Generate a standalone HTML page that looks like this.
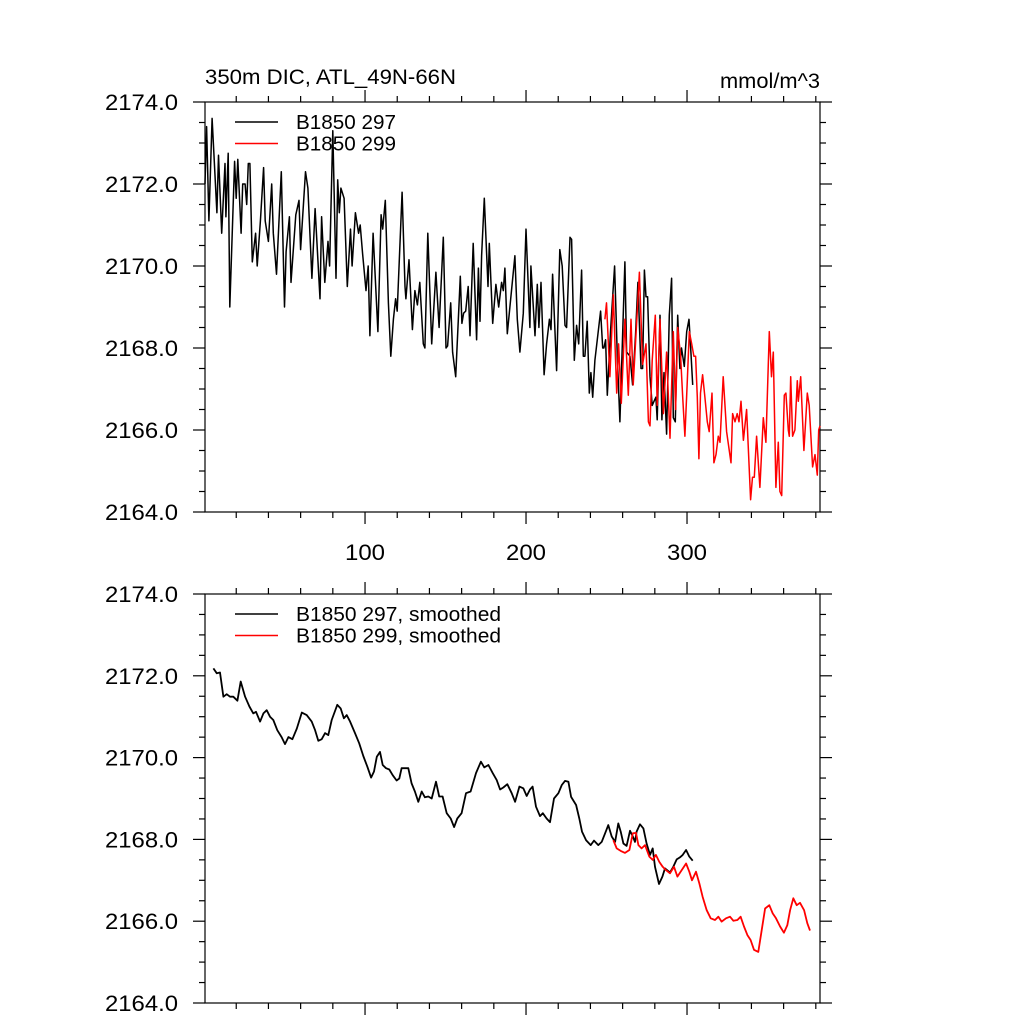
<!DOCTYPE html>
<html><head><meta charset="utf-8"><style>
html,body{margin:0;padding:0;background:#fff;}
svg{display:block;font-family:"Liberation Sans",sans-serif;}
</style></head><body>
<svg id="chart" width="1024" height="1024" viewBox="0 0 1024 1024" xmlns="http://www.w3.org/2000/svg">
<text x="205" y="84" font-size="21" textLength="251" lengthAdjust="spacingAndGlyphs">350m DIC, ATL_49N-66N</text>
<text x="820" y="88" font-size="21" text-anchor="end" textLength="100" lengthAdjust="spacingAndGlyphs">mmol/m^3</text>
<g id="p1"></g>
<g id="p2"></g>
</svg>
<script>
const xTickLabels = ["100","200","300"];
const xTicks = [100,200,300];
const yTicks = [2164,2166,2168,2170,2172,2174];
const yTickLabels = ["2164.0","2166.0","2168.0","2170.0","2172.0","2174.0"];

const rawBlackYears = [0.6,1.6,3,5,8,9,11,13,13.6,15,16,19,20,21,23,24,25.5,26.5,27.5,28.5,30,32,33,35,37,38,40,42,43,45,48,50,51,53,54,57,59,60,63,64.5,67,69,72,73,75,77,78,80,82,83,84,85,87,89,91,92,94,96,97,98.5,100.6,102,103,105,106.6,108,110,111,112.6,114.5,116,117.6,119,120,123,124.8,125.4,127.3,129.4,131,132.5,134,136.2,137.2,139,141.4,144,146,148.6,150.3,151.3,153.2,154.4,156.3,159.2,160.2,161.2,162.5,164.1,165.2,167.2,169.3,170.4,171.4,172.4,174.1,176.4,177.2,179.3,181.3,183,184.8,185.9,186.9,188.4,190,193.1,194.6,196.2,198.3,200,202.4,203,205.6,207,208,209.3,211.2,212.8,214.5,215.5,216.5,219,221,222.5,224.2,225.2,227.3,228.3,230,231.4,232.7,234.5,235.6,236.6,238,239.3,240.3,241.4,242.8,246.3,247.6,248.4,249.4,250.5,252.5,255,256.7,258.3,261.4,262.5,264.6,266.2,268,269.5,271.4,272.4,273.5,274.5,275.5,277,278.4,279.5,280.7,281.5,283.2,284.4,285.7,287.3,289,290.4,291.5,292.7,294.2,295.6,296.6,298.3,299.8,301.2,302.4,303.5];
const rawBlackValues = [2172.0,2173.4,2171.1,2173.6,2171.3,2172.7,2170.8,2172.5,2171.2,2172.75,2169.0,2172.55,2171.65,2172.6,2170.8,2172.0,2172.0,2171.5,2172.5,2172.5,2170.1,2170.8,2170.0,2171.1,2172.4,2171.1,2170.6,2172.0,2170.8,2169.8,2172.3,2169.0,2170.35,2171.2,2169.6,2171.25,2171.6,2170.4,2172.3,2171.9,2169.7,2171.4,2169.2,2171.2,2169.6,2170.6,2170.0,2173.3,2169.7,2172.1,2171.3,2171.9,2171.65,2169.5,2170.9,2170.0,2171.3,2170.8,2171.0,2170.3,2169.4,2170.0,2168.3,2170.8,2169.5,2168.4,2171.25,2170.9,2171.6,2169.1,2167.8,2168.7,2169.2,2168.9,2171.8,2169.5,2169.2,2170.15,2168.45,2169.4,2169.05,2169.6,2168.1,2168.0,2170.8,2168.1,2169.85,2168.5,2170.7,2168.0,2168.05,2169.1,2167.9,2167.3,2169.75,2168.6,2168.85,2168.9,2169.5,2168.3,2170.55,2168.2,2169.95,2168.65,2170.25,2171.65,2169.5,2170.55,2168.6,2169.55,2169.0,2169.6,2169.4,2169.95,2168.35,2169.0,2170.25,2168.7,2167.9,2168.85,2170.9,2168.5,2170.0,2168.3,2169.55,2168.5,2169.6,2167.35,2168.1,2168.7,2168.45,2169.8,2167.45,2170.4,2170.0,2168.55,2168.5,2170.7,2170.65,2167.7,2168.55,2168.1,2169.9,2167.8,2167.8,2168.65,2166.9,2167.4,2166.8,2167.7,2168.9,2168.0,2168.0,2168.2,2166.85,2168.4,2170.0,2167.8,2166.2,2170.1,2167.9,2167.8,2167.1,2168.3,2169.6,2167.5,2167.5,2169.9,2169.25,2169.25,2167.3,2166.6,2166.7,2166.8,2166.25,2168.8,2166.25,2167.4,2165.9,2168.8,2169.7,2166.3,2166.2,2168.8,2167.5,2168.0,2167.55,2168.4,2168.7,2167.9,2167.1];

const rawRedYears = [249,250,252.1,254.2,256.3,257.5,259.2,261.4,263.5,265.2,266.6,268.1,270.4,272.4,274.5,276,277,278.4,280.3,281.5,283.2,285.3,287.3,289.4,291.5,292.9,294.2,296,297.3,298.7,300.2,301.4,302.9,304.3,305.3,306.4,307.4,308.4,309.7,311.1,312.6,313.8,315.5,316.7,318,319.4,320.5,322.5,324.6,327.3,328.3,329.8,331.2,332.3,333.5,335,337,339.5,340.7,341.8,343.2,345.3,347.4,349,351.1,352.5,353.6,355.2,356.7,357.7,358.8,360.4,361.4,362.9,363.5,364.4,365.6,367,368.5,369.1,370.6,372.6,374.7,375.9,378,379.5,380.9,381.8,382.6];
const rawRedValues = [2168.7,2169.1,2167.3,2169.3,2166.9,2168.1,2166.65,2168.7,2166.85,2168.7,2167.1,2168.2,2169.85,2167.6,2168.1,2166.2,2166.1,2167.7,2168.8,2166.6,2168.7,2166.4,2167.9,2165.8,2168.4,2166.5,2168.5,2167.8,2166.8,2165.85,2167.2,2168.4,2168.1,2167.8,2167.8,2166.8,2165.3,2166.9,2167.35,2166.8,2166.2,2165.96,2166.9,2165.2,2165.4,2165.85,2165.7,2167.3,2165.96,2165.2,2166.4,2166.2,2166.4,2166.2,2166.7,2165.75,2166.5,2164.3,2164.85,2164.85,2165.85,2164.6,2166.3,2165.7,2168.4,2167.3,2167.9,2164.6,2165.7,2164.5,2164.4,2166.85,2166.9,2166.0,2165.85,2167.3,2165.85,2166.0,2167.2,2166.7,2167.3,2165.5,2166.9,2166.6,2165.1,2165.4,2164.9,2166.0,2166.1];

const smBlackYears = [5.8,7.9,9.9,12,14.1,16.1,18.2,20.7,22.8,25.5,28.2,30.6,32.3,34.8,36.9,38.9,41,43,45.5,48.2,50.3,52.4,54.9,57.6,60.7,63.8,66.9,69,71,73.1,75.2,77.2,79.3,82.8,84.9,86.9,88.6,90.7,93.8,96.4,98.9,101.4,103.8,105.6,107.3,109.3,111,113,115.1,117.2,119.6,121.3,122.7,124.8,126.9,128.9,131,133.1,135.2,137.2,139.3,141.4,144.1,146.1,148.2,150.7,153.2,155.3,157.3,160,162.7,165.6,168.9,172,174.1,176.6,179.3,181.8,183.9,185.9,188.4,191.1,193.2,195.9,198.3,200.4,202.5,204.1,206.2,208.7,210.4,212.8,214.9,217.4,220.1,222.2,224.2,226.3,228,231.1,233.1,234.8,237.3,240.2,242.2,244.9,247,249.1,251.1,253.2,255.3,257.3,258.8,260.5,262.5,264.6,266.3,267.7,268.7,270.8,272.9,274.9,277,278.7,280.1,282.6,284.7,286.3,289.4,291.5,293.6,295.6,297.3,299.4,301.4,303.5];
const smBlackValues = [2172.18,2172.06,2172.08,2171.49,2171.55,2171.49,2171.49,2171.39,2171.86,2171.49,2171.25,2171.08,2171.12,2170.88,2171.08,2171.16,2171.0,2170.92,2170.67,2170.5,2170.33,2170.5,2170.45,2170.71,2171.1,2171.04,2170.88,2170.67,2170.41,2170.45,2170.6,2170.55,2170.92,2171.29,2171.2,2170.96,2171.04,2170.88,2170.6,2170.35,2170.04,2169.78,2169.51,2169.66,2170.02,2170.14,2169.82,2169.74,2169.71,2169.57,2169.44,2169.49,2169.74,2169.74,2169.74,2169.37,2169.17,2168.92,2169.17,2169.03,2169.05,2169.0,2169.41,2169.05,2169.05,2168.64,2168.51,2168.3,2168.51,2168.64,2169.13,2169.17,2169.62,2169.9,2169.76,2169.82,2169.62,2169.45,2169.22,2169.27,2169.35,2169.13,2168.92,2169.29,2169.25,2169.06,2169.22,2169.29,2168.8,2168.57,2168.64,2168.51,2168.42,2169.0,2169.13,2169.33,2169.43,2169.41,2169.04,2168.84,2168.51,2168.19,2167.98,2167.86,2167.97,2167.86,2167.94,2168.15,2168.35,2168.07,2167.94,2168.39,2168.19,2167.9,2167.84,2168.21,2168.07,2167.94,2168.19,2168.37,2168.27,2167.9,2167.62,2167.78,2167.33,2166.91,2167.09,2167.29,2167.19,2167.33,2167.51,2167.56,2167.62,2167.74,2167.58,2167.48];

const smRedYears = [254.2,256.3,258.8,261.5,264.2,266.3,268.3,269.8,271.8,273.9,276.6,278.7,280.7,282.8,284.9,286.9,289.4,291.9,294,296.7,299.4,301.4,303.1,305.6,307.7,309.7,312.2,314.7,317.4,319.5,321.5,324.2,326.7,328.8,331.3,333.3,335.4,337.5,339.5,341.6,344.3,346.4,348.5,351.1,353.2,355.3,357.8,360.2,362.3,364,366,368.1,370.2,372.7,374.7,376.4];
const smRedValues = [2167.98,2167.78,2167.72,2167.67,2167.74,2168.15,2168.16,2167.86,2167.78,2167.86,2167.58,2167.5,2167.62,2167.45,2167.33,2167.25,2167.17,2167.33,2167.09,2167.25,2167.41,2167.21,2167.0,2167.21,2166.92,2166.6,2166.27,2166.07,2166.03,2166.11,2165.99,2166.07,2166.11,2166.01,2166.03,2166.11,2165.87,2165.66,2165.54,2165.3,2165.25,2165.78,2166.31,2166.39,2166.19,2166.07,2165.87,2165.72,2165.9,2166.27,2166.56,2166.39,2166.45,2166.27,2165.95,2165.77];

const NS='http://www.w3.org/2000/svg';
const L=205,R=820,X0=0.6,X1=382.6;
function xs(v){return L+(v-X0)*(R-L)/(X1-X0);}
function mk(tag,parent,attrs){const e=document.createElementNS(NS,tag);for(const k in attrs)e.setAttribute(k,attrs[k]);parent.appendChild(e);return e;}

function panel(g,top,bot,showXLabels,series,legend){
  const ys=v=>bot-(v-2164)*(bot-top)/10;
  const frame=mk('rect',g,{x:L,y:top,width:R-L,height:bot-top,fill:'none',stroke:'#000','stroke-width':1.2});
  
  
  for(let t=20;t<=380;t+=20){
    const major=xTicks.includes(t);const len=major?12:6;
    const x=xs(t);
    const a=mk('line',g,{x1:x,x2:x,y1:bot,y2:bot+len,stroke:'#000','stroke-width':1.2});
    
    
    const b=mk('line',g,{x1:x,x2:x,y1:top,y2:top-len,stroke:'#000','stroke-width':1.2});
    
    
  }
  if(showXLabels){xTicks.forEach((t,i)=>{
    const tx=mk('text',g,{x:xs(t),y:bot+48,'font-size':22,'text-anchor':'middle',textLength:40,lengthAdjust:'spacingAndGlyphs'});
    tx.textContent=xTickLabels[i];
    
    
  });}
  for(let v=2164;v<=2174.001;v+=0.5){
    const major=Math.abs(v-Math.round(v))<1e-6&&Math.round(v)%2===0;const len=major?12:6;
    const y=ys(v);
    const a=mk('line',g,{x1:L,x2:L-len,y1:y,y2:y,stroke:'#000','stroke-width':1.2});
    
    
    const b=mk('line',g,{x1:R,x2:R+len,y1:y,y2:y,stroke:'#000','stroke-width':1.2});
    
    
  }
  yTicks.forEach((t,i)=>{
    const tx=mk('text',g,{x:178,y:ys(t)+8,'font-size':22,'text-anchor':'end',textLength:73,lengthAdjust:'spacingAndGlyphs'});
    tx.textContent=yTickLabels[i];
    
    
  });
  series.forEach(s=>{
    const d=s.x.map((v,i)=>(i?'L':'M')+xs(v).toFixed(1)+','+ys(s.y[i]).toFixed(1)).join('');
    const p=mk('path',g,{d:d,fill:'none',stroke:s.c,'stroke-width':s.w,'stroke-linejoin':'round'});
    
    
  });
  legend.forEach((lg,i)=>{
    const y=top+20+i*21.5;
    const ln=mk('line',g,{x1:235,x2:278,y1:y,y2:y,stroke:lg.c,'stroke-width':1.5});
    
    
    const tx=mk('text',g,{x:296,y:y+7,'font-size':20,textLength:lg.w,lengthAdjust:'spacingAndGlyphs'});
    tx.textContent=lg.t;
    
    
  });
}
panel(document.getElementById('p1'),102,512,true,
  [{x:rawBlackYears,y:rawBlackValues,c:'#000',w:1.5,name:'series-b1850-297'},
   {x:rawRedYears,y:rawRedValues,c:'#f00',w:1.5,name:'series-b1850-299'}],
  [{c:'#000',t:'B1850 297',w:100},{c:'#f00',t:'B1850 299',w:100}]);
panel(document.getElementById('p2'),594,1003,false,
  [{x:smBlackYears,y:smBlackValues,c:'#000',w:1.8,name:'series-b1850-297-smoothed'},
   {x:smRedYears,y:smRedValues,c:'#f00',w:1.8,name:'series-b1850-299-smoothed'}],
  [{c:'#000',t:'B1850 297, smoothed',w:205},{c:'#f00',t:'B1850 299, smoothed',w:205}]);
</script>
</body></html>
